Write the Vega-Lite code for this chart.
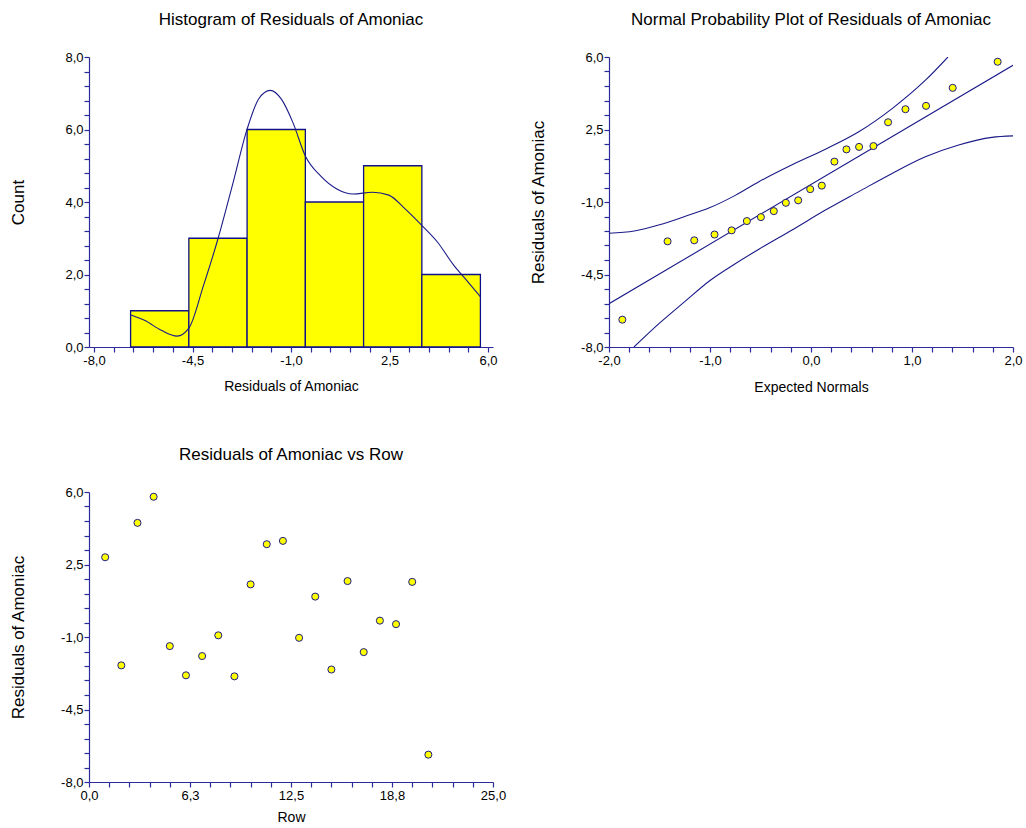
{
  "$schema": "https://vega.github.io/schema/vega-lite/v6.json",
  "padding": {"left": 8, "top": 11, "right": 5, "bottom": 5},
  "background": "white",
  "datasets": {
    "bins": [
      {"res": -6.70, "res_end": -4.63, "count": 1},
      {"res": -4.63, "res_end": -2.56, "count": 3},
      {"res": -2.56, "res_end": -0.49, "count": 6},
      {"res": -0.49, "res_end": 1.58, "count": 4},
      {"res": 1.58, "res_end": 3.65, "count": 5},
      {"res": 3.65, "res_end": 5.73, "count": 2}
    ],
    "density": [
      {"res": -6.707, "count": 0.89}, {"res": -6.188, "count": 0.73}, {"res": -5.609, "count": 0.46},
      {"res": -5.05, "count": 0.30}, {"res": -4.628, "count": 0.52}, {"res": -4.108, "count": 1.70},
      {"res": -3.589, "count": 3.00}, {"res": -3.069, "count": 4.50}, {"res": -2.560, "count": 6.01},
      {"res": -2.144, "count": 6.85}, {"res": -1.738, "count": 7.08}, {"res": -1.336, "count": 6.83},
      {"res": -0.931, "count": 6.19}, {"res": -0.491, "count": 5.27}, {"res": 0.050, "count": 4.72},
      {"res": 0.628, "count": 4.36}, {"res": 1.207, "count": 4.22}, {"res": 1.900, "count": 4.27},
      {"res": 2.476, "count": 4.19}, {"res": 3.054, "count": 3.81}, {"res": 3.654, "count": 3.35},
      {"res": 4.209, "count": 2.89}, {"res": 4.787, "count": 2.25}, {"res": 5.249, "count": 1.83},
      {"res": 5.734, "count": 1.38}
    ],
    "normal": [
      {"z": -1.868, "res": -6.68}, {"z": -1.420, "res": -2.90}, {"z": -1.156, "res": -2.85},
      {"z": -0.955, "res": -2.57}, {"z": -0.786, "res": -2.37}, {"z": -0.635, "res": -1.92},
      {"z": -0.496, "res": -1.73}, {"z": -0.368, "res": -1.44}, {"z": -0.249, "res": -1.04},
      {"z": -0.127, "res": -0.92}, {"z": -0.008, "res": -0.38}, {"z": 0.107, "res": -0.21},
      {"z": 0.232, "res": 0.95}, {"z": 0.351, "res": 1.54}, {"z": 0.476, "res": 1.66},
      {"z": 0.618, "res": 1.70}, {"z": 0.763, "res": 2.85}, {"z": 0.935, "res": 3.48},
      {"z": 1.139, "res": 3.64}, {"z": 1.403, "res": 4.51}, {"z": 1.848, "res": 5.77}
    ],
    "bands": [
      {"band": "center", "z": -2.0, "res": -5.91}, {"band": "center", "z": 2.0, "res": 5.60},
      {"band": "upper", "z": -2.0, "res": -2.51}, {"band": "upper", "z": -1.75, "res": -2.40},
      {"band": "upper", "z": -1.5, "res": -2.10}, {"band": "upper", "z": -1.25, "res": -1.70},
      {"band": "upper", "z": -1.0, "res": -1.27}, {"band": "upper", "z": -0.75, "res": -0.68},
      {"band": "upper", "z": -0.516, "res": -0.02}, {"band": "upper", "z": -0.187, "res": 0.80},
      {"band": "upper", "z": 0.143, "res": 1.55}, {"band": "upper", "z": 0.473, "res": 2.39},
      {"band": "upper", "z": 0.803, "res": 3.51}, {"band": "upper", "z": 1.133, "res": 4.88},
      {"band": "upper", "z": 1.356, "res": 6.0},
      {"band": "lower", "z": -1.753, "res": -8.0}, {"band": "lower", "z": -1.5, "res": -6.85},
      {"band": "lower", "z": -1.25, "res": -5.81}, {"band": "lower", "z": -1.0, "res": -4.79},
      {"band": "lower", "z": -0.75, "res": -3.98}, {"band": "lower", "z": -0.516, "res": -3.28},
      {"band": "lower", "z": -0.187, "res": -2.35}, {"band": "lower", "z": 0.143, "res": -1.39},
      {"band": "lower", "z": 0.473, "res": -0.50}, {"band": "lower", "z": 0.803, "res": 0.38},
      {"band": "lower", "z": 1.133, "res": 1.18}, {"band": "lower", "z": 1.462, "res": 1.75},
      {"band": "lower", "z": 1.791, "res": 2.12}, {"band": "lower", "z": 2.0, "res": 2.19}
    ],
    "rows": [
      {"row": 1, "res": 2.85}, {"row": 2, "res": -2.37}, {"row": 3, "res": 4.51}, {"row": 4, "res": 5.77},
      {"row": 5, "res": -1.44}, {"row": 6, "res": -2.85}, {"row": 7, "res": -1.92}, {"row": 8, "res": -0.92},
      {"row": 9, "res": -2.90}, {"row": 10, "res": 1.54}, {"row": 11, "res": 3.48}, {"row": 12, "res": 3.64},
      {"row": 13, "res": -1.04}, {"row": 14, "res": 0.95}, {"row": 15, "res": -2.57}, {"row": 16, "res": 1.70},
      {"row": 17, "res": -1.73}, {"row": 18, "res": -0.21}, {"row": 19, "res": -0.38}, {"row": 20, "res": 1.66},
      {"row": 21, "res": -6.68}
    ]
  },
  "config": {
    "font": "Liberation Sans",
    "view": {"stroke": null},
    "axis": {
      "grid": false,
      "domainColor": "#2b2b9c",
      "tickColor": "#2b2b9c",
      "domainWidth": 1.2,
      "tickWidth": 1.2,
      "tickSize": 5,
      "labelColor": "#000000",
      "labelFont": "Liberation Sans",
      "labelFontSize": 13,
      "labelPadding": 2,
      "labelFlush": false,
      "labelOverlap": false,
      "labelBound": false,
      "titleFont": "Liberation Sans",
      "titleFontWeight": "normal",
      "titleColor": "#000000"
    },
    "axisY": {"titleFontSize": 17, "titleX": -62, "titleBaseline": "bottom", "titleAlign": "center", "labelPadding": 1},
    "axisX": {"titleFontSize": 14, "titleBaseline": "middle"},
    "title": {"font": "Liberation Sans", "fontSize": 17, "fontWeight": "normal", "color": "#000000", "offset": 22, "anchor": "middle", "frame": "group"}
  },
  "columns": 2,
  "spacing": {"row": 52, "column": 22},
  "concat": [
    {
      "width": 404, "height": 290,
      "title": "Histogram of Residuals of Amoniac",
      "encoding": {
        "x": {"field": "res", "type": "quantitative", "title": "Residuals of Amoniac",
          "scale": {"domain": [-8, 6], "nice": false, "zero": false},
          "axis": {"titleY": 39, "labelOverlap": false,
            "values": [-8,-7.3,-6.6,-5.9,-5.2,-4.5,-3.8,-3.1,-2.4,-1.7,-1,-0.3,0.4,1.1,1.8,2.5,3.2,3.9,4.6,5.3,6],
            "labelExpr": "abs((datum.value+8)/3.5 - round((datum.value+8)/3.5)) < 0.01 ? (datum.value < -0.001 ? '-' : '') + replace(format(abs(datum.value), '.1f'), '.', ',') : ''"}},
        "y": {"field": "count", "type": "quantitative", "title": "Count",
          "scale": {"domain": [0, 8], "nice": false},
          "axis": {"labelOverlap": false,
            "values": [0,0.4,0.8,1.2,1.6,2,2.4,2.8,3.2,3.6,4,4.4,4.8,5.2,5.6,6,6.4,6.8,7.2,7.6,8],
            "labelExpr": "abs(datum.value/2 - round(datum.value/2)) < 0.01 ? (datum.value < -0.001 ? '-' : '') + replace(format(abs(datum.value), '.1f'), '.', ',') : ''"}}
      },
      "layer": [
        {
          "data": {"name": "bins"},
          "mark": {"type": "bar", "fill": "#ffff00", "stroke": "#10108a", "strokeWidth": 1.3, "orient": "vertical"},
          "encoding": {
            "x2": {"field": "res_end"},
            "y2": {"datum": 0}
          }
        },
        {
          "data": {"name": "density"},
          "mark": {"type": "line", "color": "#1a1a88", "strokeWidth": 1.1, "interpolate": "monotone"},
          "encoding": {}
        }
      ]
    },
    {
      "width": 404, "height": 290,
      "title": "Normal Probability Plot of Residuals of Amoniac",
      "encoding": {
        "x": {"field": "z", "type": "quantitative", "title": "Expected Normals",
          "scale": {"domain": [-2, 2], "nice": false, "zero": false},
          "axis": {"titleY": 40, "labelOverlap": false,
            "values": [-2,-1.8,-1.6,-1.4,-1.2,-1,-0.8,-0.6,-0.4,-0.2,0,0.2,0.4,0.6,0.8,1,1.2,1.4,1.6,1.8,2],
            "labelExpr": "abs(datum.value - round(datum.value)) < 0.01 ? (datum.value < -0.001 ? '-' : '') + replace(format(abs(datum.value), '.1f'), '.', ',') : ''"}},
        "y": {"field": "res", "type": "quantitative", "title": "Residuals of Amoniac",
          "scale": {"domain": [-8, 6], "nice": false, "zero": false},
          "axis": {"labelOverlap": false,
            "values": [-8,-7.3,-6.6,-5.9,-5.2,-4.5,-3.8,-3.1,-2.4,-1.7,-1,-0.3,0.4,1.1,1.8,2.5,3.2,3.9,4.6,5.3,6],
            "labelExpr": "abs((datum.value+8)/3.5 - round((datum.value+8)/3.5)) < 0.01 ? (datum.value < -0.001 ? '-' : '') + replace(format(abs(datum.value), '.1f'), '.', ',') : ''"}}
      },
      "layer": [
        {
          "data": {"name": "bands"},
          "mark": {"type": "line", "color": "#1a1a88", "strokeWidth": 1.1, "interpolate": "monotone", "clip": true},
          "encoding": {
            "detail": {"field": "band", "type": "nominal"}
          }
        },
        {
          "data": {"name": "normal"},
          "mark": {"type": "circle", "fill": "#ffff00", "stroke": "#1a1a88", "strokeWidth": 1, "size": 50, "opacity": 1},
          "encoding": {}
        }
      ]
    },
    {
      "width": 404, "height": 290,
      "title": "Residuals of Amoniac vs Row",
      "data": {"name": "rows"},
      "mark": {"type": "circle", "fill": "#ffff00", "stroke": "#1a1a88", "strokeWidth": 1, "size": 50, "opacity": 1},
      "encoding": {
        "x": {"field": "row", "type": "quantitative", "title": "Row",
          "scale": {"domain": [0, 25], "nice": false, "zero": false},
          "axis": {"titleY": 35,
            "values": [0,1.25,2.5,3.75,5,6.25,7.5,8.75,10,11.25,12.5,13.75,15,16.25,17.5,18.75,20,21.25,22.5,23.75,25],
            "labelExpr": "abs(datum.value/6.25 - round(datum.value/6.25)) < 0.01 ? (datum.value < -0.001 ? '-' : '') + replace(format(abs(datum.value), '.1f'), '.', ',') : ''"}},
        "y": {"field": "res", "type": "quantitative", "title": "Residuals of Amoniac",
          "scale": {"domain": [-8, 6], "nice": false, "zero": false},
          "axis": {
            "values": [-8,-7.3,-6.6,-5.9,-5.2,-4.5,-3.8,-3.1,-2.4,-1.7,-1,-0.3,0.4,1.1,1.8,2.5,3.2,3.9,4.6,5.3,6],
            "labelExpr": "abs((datum.value+8)/3.5 - round((datum.value+8)/3.5)) < 0.01 ? (datum.value < -0.001 ? '-' : '') + replace(format(abs(datum.value), '.1f'), '.', ',') : ''"}}
      }
    }
  ]
}
